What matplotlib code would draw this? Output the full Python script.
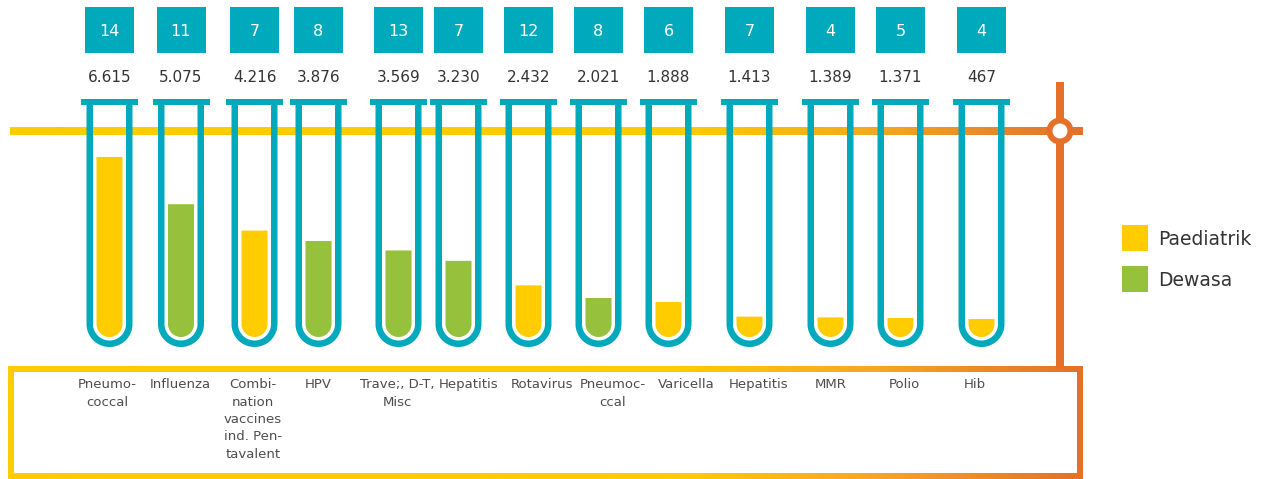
import numpy as np
import matplotlib
matplotlib.use('Agg')
import matplotlib.pyplot as plt
from matplotlib.path import Path
from matplotlib.patches import PathPatch, Rectangle, Circle
from matplotlib.colors import LinearSegmentedColormap

# data
categories = ["Pneumo-\ncoccal", "Influenza", "Combi-\nnation\nvaccines\nind. Pen-\ntavalent",
              "HPV", "Trave;, D-T,\nMisc", "Hepatitis", "Rotavirus", "Pneumoc-\nccal",
              "Varicella", "Hepatitis", "MMR", "Polio", "Hib"]
doses = [6615, 5075, 4216, 3876, 3569, 3230, 2432, 2021, 1888, 1413, 1389, 1371, 467]
products = [14, 11, 7, 8, 13, 7, 12, 8, 6, 7, 4, 5, 4]
group = ["P", "D", "P", "D", "D", "D", "P", "D", "P", "P", "P", "P", "P"]
legend_labels = {"P": "Paediatrik", "D": "Dewasa"}

# layout (pixels)
W, H = 1263, 479
TUBE_X = [109.5, 181, 254.5, 318.5, 398.5, 458.5, 528.5, 598.5, 668.5, 749.5, 830.5, 900.5, 981.5]
LABEL_X = [107, 180, 253, 318, 397, 469, 542, 613, 686, 759, 831, 904, 975]
TUBE_TOP = 104
BOWL_Y = 324          # centre of the round bottom
FILL_BOTTOM = 337
PX_PER_DOSE = 0.0307  # fill scale
DOSE_OFFSET = 750
MIN_FILL = 18

CYAN = "#00A9BB"
YELLOW = "#FFCC00"
GREEN = "#95C13D"
ORANGE = "#E4702A"
TEXT = "#333333"
colors = {"P": YELLOW, "D": GREEN}

PT = 0.72  # points per pixel at dpi 100


def u_path(cx, r, top):
    # straight sides from top down to BOWL_Y, then a half circle
    theta = np.linspace(np.pi, 0, 40)
    xs = np.concatenate([[cx - r], cx + r * np.cos(theta), [cx + r]])
    ys = np.concatenate([[top], BOWL_Y + r * np.sin(theta), [top]])
    return xs, ys


def gradient_fill(ax, clip_patch):
    cmap = LinearSegmentedColormap.from_list(
        "yo", [(0, YELLOW), (680 / W, YELLOW), (880 / W, "#F5A623"), (1085 / W, ORANGE), (1, ORANGE)])
    grad = np.linspace(0, 1, 600).reshape(1, -1)
    im = ax.imshow(grad, extent=(0, W, H, 0), cmap=cmap, aspect="auto", zorder=1, interpolation="bilinear")
    clip_patch.set_transform(ax.transData)
    im.set_clip_path(clip_patch)


fig = plt.figure(figsize=(W / 100, H / 100), dpi=100)
ax = fig.add_axes([0, 0, 1, 1])

# horizontal line with gradient
line_path = Path([(10, 127), (1083, 127), (1083, 135), (10, 135), (10, 127)],
                 [Path.MOVETO, Path.LINETO, Path.LINETO, Path.LINETO, Path.CLOSEPOLY])
gradient_fill(ax, PathPatch(line_path))

# bottom frame with gradient
ox0, oy0, ox1, oy1 = 8, 366, 1083, 479
ix0, iy0, ix1, iy1 = 14, 372, 1077, 473
frame_verts = [(ox0, oy0), (ox1, oy0), (ox1, oy1), (ox0, oy1), (ox0, oy0),
               (ix0, iy0), (ix0, iy1), (ix1, iy1), (ix1, iy0), (ix0, iy0)]
frame_codes = [Path.MOVETO, Path.LINETO, Path.LINETO, Path.LINETO, Path.CLOSEPOLY] * 2
gradient_fill(ax, PathPatch(Path(frame_verts, frame_codes)))

# orange stand and ring
ax.add_patch(Rectangle((1056, 82), 8, 286, color=ORANGE, lw=0, zorder=2))
ax.add_patch(Circle((1060, 131), 13.5, color=ORANGE, lw=0, zorder=3))
ax.add_patch(Circle((1060, 131), 7.5, color="white", lw=0, zorder=4))

for i, cx in enumerate(TUBE_X):
    # liquid
    h = max(MIN_FILL, (doses[i] - DOSE_OFFSET) * PX_PER_DOSE)
    xs, ys = u_path(cx, 13, FILL_BOTTOM - h)
    ax.fill(xs, ys, color=colors[group[i]], lw=0, zorder=2)

    # glass
    xs, ys = u_path(cx, 19.75, TUBE_TOP)
    ax.plot(xs, ys, color=CYAN, lw=6.5 * PT, solid_capstyle="butt", solid_joinstyle="round", zorder=3)
    ax.add_patch(Rectangle((cx - 28.5, 98.5), 57, 6, color=CYAN, lw=0, zorder=3))

    # count box and dose number
    ax.add_patch(Rectangle((cx - 24.5, 7), 49, 46, color=CYAN, lw=0, zorder=3))
    ax.text(cx, 31, str(products[i]), color="white", fontsize=11.5, ha="center", va="center", zorder=4)
    ax.text(cx, 77, f"{doses[i]:,}".replace(",", "."), color=TEXT, fontsize=11,
            ha="center", va="center", zorder=4)

    ax.text(LABEL_X[i], 378, categories[i], color="#4D4D4D", fontsize=9.5, ha="center", va="top",
            linespacing=1.45, zorder=4)

# legend
for j, key in enumerate(["P", "D"]):
    y0 = 225 + j * 41
    ax.add_patch(Rectangle((1122, y0), 26, 26, color=colors[key], lw=0))
    ax.text(1158, y0 + 14, legend_labels[key], color=TEXT, fontsize=13.5, ha="left", va="center")

ax.set_xlim(0, W)
ax.set_ylim(H, 0)
ax.axis("off")
fig.savefig("out.png", dpi=100, facecolor="white")
